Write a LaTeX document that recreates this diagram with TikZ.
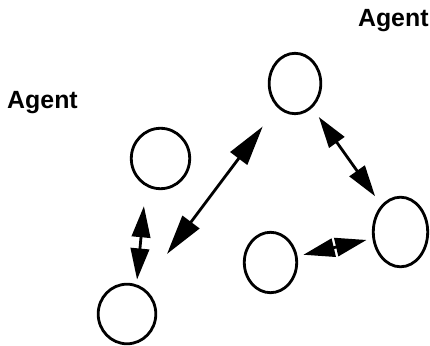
\documentclass[tikz,border=0pt]{standalone}
\usepackage{fontspec}
\usepackage{tikz}
\usetikzlibrary{shapes.geometric, arrows.meta}
\newfontfamily\agentfont{Liberation Sans}

\begin{document}
\begin{tikzpicture}[x=0.025cm, y=-0.025cm]
      \tikzset{ agt/.style ={draw=black, ellipse, line width=2.0pt, inner sep=0pt} }
      \tikzset{ lbl/.style ={text=black, anchor=base, inner sep=0pt, font=\agentfont\bfseries\fontsize{17.7}{20}\selectfont} }
      \tikzset{ lnk/.style ={{Triangle[length=0.78cm, width=0.46cm]}-{Triangle[length=0.78cm, width=0.46cm]}, line width=2.0pt} }
      \tikzset{ blnk/.style={{Triangle[length=1.00cm, width=0.52cm]}-{Triangle[length=1.00cm, width=0.52cm]}, line width=2.0pt} }

      \useasboundingbox (0,0) rectangle (430,346);

      \node[lbl] (l1) at (42.5,109.0) {Agent};
      \node[lbl] (l2) at (393.3,26.5) {Agent};

      \node[agt, minimum width=1.29cm, minimum height=1.51cm] (a1) at (295.0,83.5)  {};
      \node[agt, minimum width=1.46cm, minimum height=1.51cm] (a2) at (160.5,158.5) {};
      \node[agt, minimum width=1.44cm, minimum height=1.49cm] (a3) at (127.0,314.0) {};
      \node[agt, minimum width=1.31cm, minimum height=1.51cm] (a4) at (270.5,262.5) {};
      \node[agt, minimum width=1.36cm, minimum height=1.74cm] (a5) at (400.5,232.0) {};

      \coordinate (tip) at (167,254);

      \draw[lnk,  shorten <=0.50cm, shorten >=0.12cm] (a2.-118) -- (a3.72);
      \draw[blnk, shorten >=0.60cm]                   (tip)      -- (a1);
      \draw[lnk,  shorten <=0.28cm, shorten >=0.27cm] (a1)       -- (a5);
      \draw[lnk,  shorten <=0.15cm, shorten >=0.15cm] (a5)       -- (a4);
\end{tikzpicture}
\end{document}
